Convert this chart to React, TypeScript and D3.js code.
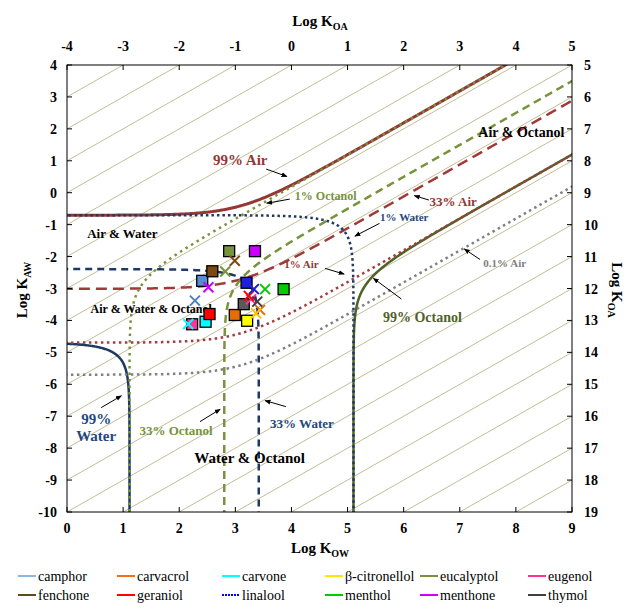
import React from "react";
import * as d3 from "d3";

// compounds, marker colours and read-off positions (log Kow, log Kaw)
const compounds = ["camphor", "carvacrol", "carvone", "β-citronellol", "eucalyptol", "eugenol", "fenchone", "geraniol", "linalool", "menthol", "menthone", "thymol"];
const lineColors = ["#8DB4E2", "#F07020", "#00FFFF", "#FFE600", "#77933C", "#FF3399", "#604A1B", "#FF0000", "#0000FF", "#00CC00", "#CC00FF", "#404040"];
const squareColors = ["#558ED5", "#E46C0A", "#00FFFF", "#FFFF00", "#77933C", "#FF3399", "#7A4A12", "#FF0000", "#1F1FE0", "#00CC00", "#CC00FF", "#595959"];
const crossColors = ["#4F81BD", "#E46C0A", "#00FFFF", "#FFC000", "#77933C", "#FF3399", "#7A4A12", "#FF0000", "#1F1FE0", "#00CC00", "#CC00FF", "#404040"];
const squareKow = [2.41, 2.99, 2.47, 3.21, 2.89, 2.23, 2.59, 2.54, 3.2, 3.86, 3.35, 3.15];
const squareKaw = [-2.76, -3.83, -4.04, -4.01, -1.83, -4.12, -2.46, -3.8, -2.82, -3.02, -1.83, -3.49];
const crossKow = [2.28, 3.44, 2.16, 3.37, 2.82, 3.28, 2.99, 3.24, 3.33, 3.53, 2.52, 3.39];
const crossKaw = [-3.38, -3.67, -4.11, -3.78, -2.47, -3.34, -2.13, -3.23, -3.02, -3.02, -2.96, -3.41];

// phase volumes relative to air (log10) used for the isolines
const logVw = -2.7;
const logVo = -5.81;
const airLevels = [0.99, 0.33, 0.01, 0.001];
const waterLevels = [0.99, 0.33, 0.01];
const octLevels = [0.99, 0.33, 0.01];

const kowTicks = d3.range(0, 10);
const kawTicks = d3.range(-10, 5);
const koaTopTicks = d3.range(-4, 6);
const koaRightTicks = d3.range(5, 20);
const koaGrid = d3.range(-4, 20);

const W = 629, H = 609;
const L = 67, R = 572, T = 65, B = 512;
const FONT = "'Liberation Serif', 'Times New Roman', serif";

const x = d3.scaleLinear().domain([0, 9]).range([L, R]);
const y = d3.scaleLinear().domain([-10, 4]).range([B, T]);
const xTop = d3.scaleLinear().domain([-4, 5]).range([L, R]);
const yRight = d3.scaleLinear().domain([19, 5]).range([B, T]);

const line = d3.line<[number, number]>().x((d) => x(d[0])).y((d) => y(d[1]));

const airCurve = (f: number) =>
  d3.range(-1, 10.01, 0.02).map((k) => [k, Math.log10((f / (1 - f)) * (10 ** logVw + 10 ** (k + logVo)))] as [number, number]);
const octCurve = (f: number) =>
  d3.range(-11, 5.01, 0.02).map((a) => [Math.log10((f / (1 - f)) * (10 ** logVw + 10 ** a)) - logVo, a] as [number, number]);
const waterCurve = (f: number) => {
  const C = ((1 - f) / f) * 10 ** logVw;
  return d3.range(-14, 14, 0.02).map((u) => {
    const p = 10 ** u / (1 + 10 ** u);
    return [Math.log10(C * p) - logVo, Math.log10(C * (1 - p))] as [number, number];
  });
};

const styles = {
  air: [
    { c: "#953735", w: 3, d: "" },
    { c: "#A0393A", w: 2.5, d: "11 6" },
    { c: "#A53C3C", w: 2.5, d: "2.5 3.5" },
    { c: "#808080", w: 2.5, d: "2.5 3.5" },
  ],
  water: [
    { c: "#1F3864", w: 2.5, d: "" },
    { c: "#1F3864", w: 2.5, d: "7 5" },
    { c: "#1F3864", w: 2.5, d: "2.5 3" },
  ],
  oct: [
    { c: "#4F6228", w: 2.5, d: "" },
    { c: "#77933C", w: 2.5, d: "8 5" },
    { c: "#77933C", w: 2.5, d: "2.5 4" },
  ],
};

type Ann = { t: string; kow: number; kaw: number; c: string; s: number; a?: [number, number, number, number]; anchor?: string };
const annotations: Ann[] = [
  { t: "99% Air", kow: 2.6, kaw: 0.87, c: "#953735", s: 15, a: [3.55, 0.74, 3.92, 0.51] },
  { t: "1% Octanol", kow: 4.06, kaw: -0.23, c: "#77933C", s: 12, a: [3.97, -0.2, 3.56, -0.33] },
  { t: "Air & Water", kow: 0.36, kaw: -1.42, c: "#000", s: 13 },
  { t: "Air & Octanol", kow: 7.33, kaw: 1.75, c: "#000", s: 14 },
  { t: "33% Air", kow: 6.46, kaw: -0.42, c: "#953735", s: 13, a: [6.45, -0.23, 6.19, -0.09] },
  { t: "1% Water", kow: 5.58, kaw: -0.88, c: "#1F497D", s: 11, a: [5.57, -0.96, 5.13, -1.36] },
  { t: "1% Air", kow: 3.87, kaw: -2.36, c: "#953735", s: 11, a: [4.6, -2.37, 4.94, -2.55] },
  { t: "0.1% Air", kow: 7.42, kaw: -2.32, c: "#808080", s: 11, a: [7.36, -2.09, 7.08, -1.76] },
  { t: "99% Octanol", kow: 5.63, kaw: -4.05, c: "#4F6228", s: 14, a: [5.96, -3.33, 5.46, -2.68] },
  { t: "Air & Water & Octanol", kow: 0.42, kaw: -3.76, c: "#000", s: 12 },
  { t: "99%", kow: 0.52, kaw: -7.25, c: "#1F497D", s: 15, anchor: "middle", a: [0.61, -6.73, 0.97, -6.36] },
  { t: "Water", kow: 0.52, kaw: -7.77, c: "#1F497D", s: 15, anchor: "middle" },
  { t: "33% Octanol", kow: 1.29, kaw: -7.59, c: "#77933C", s: 13, a: [2.37, -7.17, 2.73, -6.78] },
  { t: "33% Water", kow: 3.62, kaw: -7.38, c: "#1F497D", s: 13, a: [3.9, -6.7, 3.53, -6.51] },
  { t: "Water & Octanol", kow: 2.27, kaw: -8.46, c: "#000", s: 15 },
];

const legendX = [18, 117, 222, 325, 420, 528];
const legendY = [576, 595];

const Title = ({ sub, ...p }: any) => (
  <text fontFamily={FONT} fontWeight="bold" fontSize={15} textAnchor="middle" {...p}>
    Log K<tspan fontSize={10} dy={4}>{sub}</tspan>
  </text>
);

export default function App() {
  const curves: { d: string; c: string; w: number; dash: string }[] = [];
  const add = (pts: [number, number][], st: { c: string; w: number; d: string }) =>
    curves.push({ d: line(pts) || "", c: st.c, w: st.w, dash: st.d });
  // solid first, then dashed, dotted on top
  [0, 1, 2, 3].forEach((lvl) => {
    if (airLevels[lvl] !== undefined) add(airCurve(airLevels[lvl]), styles.air[lvl]);
    if (waterLevels[lvl] !== undefined) add(waterCurve(waterLevels[lvl]), styles.water[lvl]);
    if (octLevels[lvl] !== undefined) add(octCurve(octLevels[lvl]), styles.oct[lvl]);
  });

  return (
    <svg width={W} height={H} style={{ position: "absolute", left: 0, top: 0, background: "#fff" }}>
      <defs>
        <clipPath id="plot">
          <rect x={L} y={T} width={R - L} height={B - T} />
        </clipPath>
        <marker id="arr" viewBox="0 0 10 10" refX="9" refY="5" markerWidth="6" markerHeight="6" orient="auto">
          <path d="M0,1 L10,5 L0,9 z" fill="#000" />
        </marker>
      </defs>
      <rect width={W} height={H} fill="#fff" />

      <g clipPath="url(#plot)">
        {koaGrid.map((k) => (
          <line key={k} x1={x(-2)} y1={y(-2 - k)} x2={x(11)} y2={y(11 - k)} stroke="#C4BD97" strokeWidth={1} />
        ))}
        {curves.map((c, i) => (
          <path key={i} d={c.d} fill="none" stroke={c.c} strokeWidth={c.w} strokeDasharray={c.dash || undefined} />
        ))}
      </g>

      <rect x={L} y={T} width={R - L} height={B - T} fill="none" stroke="#000" strokeWidth={1} />

      {/* ticks */}
      {kowTicks.map((t) => (
        <g key={"b" + t}>
          <line x1={x(t)} x2={x(t)} y1={B} y2={B - 5} stroke="#000" />
          <text x={x(t)} y={533} textAnchor="middle" fontFamily={FONT} fontWeight="bold" fontSize={14}>{t}</text>
        </g>
      ))}
      {koaTopTicks.map((t) => (
        <g key={"t" + t}>
          <line x1={xTop(t)} x2={xTop(t)} y1={T} y2={T + 5} stroke="#000" />
          <text x={xTop(t)} y={51} textAnchor="middle" fontFamily={FONT} fontWeight="bold" fontSize={14}>{t}</text>
        </g>
      ))}
      {kawTicks.map((t) => (
        <g key={"l" + t}>
          <line x1={L} x2={L + 5} y1={y(t)} y2={y(t)} stroke="#000" />
          <text x={57} y={y(t) + 5} textAnchor="end" fontFamily={FONT} fontWeight="bold" fontSize={14}>{t}</text>
        </g>
      ))}
      {koaRightTicks.map((t) => (
        <g key={"r" + t}>
          <line x1={R} x2={R - 5} y1={yRight(t)} y2={yRight(t)} stroke="#000" />
          <text x={584} y={yRight(t) + 5} textAnchor="start" fontFamily={FONT} fontWeight="bold" fontSize={14}>{t}</text>
        </g>
      ))}

      <Title x={320} y={553} sub="OW" />
      <Title x={320} y={26} sub="OA" />
      <Title sub="AW" transform="translate(27,290) rotate(-90)" />
      <Title sub="OA" transform="translate(612,290) rotate(90)" />

      {/* annotations */}
      {annotations.map((a, i) => (
        <g key={"a" + i}>
          <text x={x(a.kow)} y={y(a.kaw)} fill={a.c} fontFamily={FONT} fontWeight="bold" fontSize={a.s} textAnchor={a.anchor || "start"}>{a.t}</text>
          {a.a && (
            <line x1={x(a.a[0])} y1={y(a.a[1])} x2={x(a.a[2])} y2={y(a.a[3])} stroke="#000" strokeWidth={1} markerEnd="url(#arr)" />
          )}
        </g>
      ))}

      {/* compounds */}
      {compounds.map((c, i) => (
        <rect key={"s" + c} x={x(squareKow[i]) - 5.5} y={y(squareKaw[i]) - 5.5} width={11} height={11} fill={squareColors[i]} stroke="#000" strokeWidth={1.3} />
      ))}
      {compounds.map((c, i) => {
        const cx = x(crossKow[i]), cy = y(crossKaw[i]), r = 5;
        return (
          <path key={"x" + c} d={`M${cx - r},${cy - r}L${cx + r},${cy + r}M${cx - r},${cy + r}L${cx + r},${cy - r}`} stroke={crossColors[i]} strokeWidth={2} fill="none" />
        );
      })}

      {/* legend */}
      {compounds.map((c, i) => {
        const lx = legendX[i % 6], ly = legendY[Math.floor(i / 6)];
        return (
          <g key={"lg" + c}>
            <line x1={lx} x2={lx + 18} y1={ly} y2={ly} stroke={lineColors[i]} strokeWidth={2} strokeDasharray={c === "linalool" ? "2 1" : undefined} />
            <text x={lx + 20} y={ly + 4.5} fontFamily={FONT} fontSize={14}>{c}</text>
          </g>
        );
      })}
    </svg>
  );
}
